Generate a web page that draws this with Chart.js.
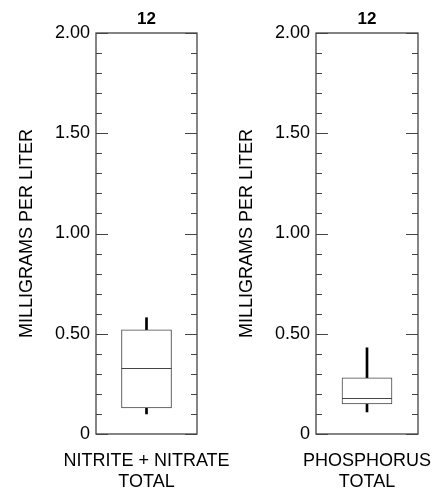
<!DOCTYPE html>
<html>
<head>
<meta charset="utf-8">
<script src="https://cdn.jsdelivr.net/npm/chart.js@4/dist/chart.umd.min.js"></script>
<style>
  html, body { margin: 0; padding: 0; background: #fff; }
  .panel { position: absolute; top: 0; height: 491px; }
</style>
</head>
<body>
<div class="panel" style="left:220px;width:219px"><canvas id="chart1" width="219" height="491"></canvas></div>
<div class="panel" style="left:0;width:240px"><canvas id="chart0" width="240" height="491"></canvas></div>
<script>
// one box per panel
var categories = [['NITRITE + NITRATE', 'TOTAL'], ['PHOSPHORUS', 'TOTAL']];
var counts = [12, 12];
var whiskerLow = [0.10, 0.11];
var q1 = [0.13, 0.15];
var median = [0.33, 0.18];
var q3 = [0.52, 0.28];
var whiskerHigh = [0.58, 0.43];

var yMin = 0, yMax = 2, minorStep = 0.1, majorStep = 0.5;
var yLabels = ['0', '0.50', '1.00', '1.50', '2.00'];

var FONT = "'Liberation Sans', Arial, Helvetica, sans-serif";

var boxExtras = {
  id: 'boxExtras',
  afterDraw: function (chart) {
    var ctx = chart.ctx, a = chart.chartArea, y = chart.scales.y;
    var idx = chart.options.plugins.boxExtras.index;
    ctx.save();
    // frame
    ctx.strokeStyle = '#444';
    ctx.lineWidth = 1.3;
    ctx.strokeRect(a.left, a.top, a.right - a.left, a.bottom - a.top);
    // inward ticks on both sides
    ctx.lineWidth = 1;
    y.ticks.forEach(function (t) {
      var py = Math.round(y.getPixelForValue(t.value)) + 0.5;
      var major = Math.round(t.value * 10) % Math.round(majorStep * 10) === 0;
      var len = major ? 12 : 6;
      ctx.beginPath();
      ctx.moveTo(a.left, py); ctx.lineTo(a.left + len, py);
      ctx.moveTo(a.right, py); ctx.lineTo(a.right - len, py);
      ctx.stroke();
    });
    // median line across the box
    var el = chart.getDatasetMeta(0).data[0];
    var my = Math.round(y.getPixelForValue(median[idx])) + 0.5;
    ctx.strokeStyle = '#444';
    ctx.beginPath();
    ctx.moveTo(el.x - el.width / 2, my); ctx.lineTo(el.x + el.width / 2, my);
    ctx.stroke();
    // sample count
    ctx.fillStyle = '#000';
    ctx.font = 'bold 17px ' + FONT;
    ctx.textAlign = 'center';
    ctx.textBaseline = 'alphabetic';
    ctx.fillText(String(counts[idx]), el.x, 23.5);
    ctx.restore();
  }
};

function makeChart(id, idx, rightPad) {
  var ctx = document.getElementById(id).getContext('2d');
  return new Chart(ctx, {
    type: 'bar',
    data: {
      labels: [categories[idx]],
      datasets: [
        {
          data: [[q1[idx], q3[idx]]],
          backgroundColor: '#fff',
          borderColor: '#444',
          borderWidth: 1,
          borderSkipped: false,
          barThickness: 50,
          grouped: false
        },
        {
          data: [[q3[idx], whiskerHigh[idx]]],
          backgroundColor: '#000',
          borderWidth: 0,
          barThickness: 2,
          grouped: false
        },
        {
          data: [[whiskerLow[idx], q1[idx]]],
          backgroundColor: '#000',
          borderWidth: 0,
          barThickness: 2,
          grouped: false
        }
      ]
    },
    options: {
      responsive: false,
      animation: false,
      layout: { padding: { top: 33, right: rightPad, bottom: 0, left: 0 } },
      plugins: {
        legend: { display: false },
        tooltip: { enabled: false },
        boxExtras: { index: idx }
      },
      scales: {
        x: {
          grid: { display: false, drawTicks: false },
          border: { display: false },
          ticks: {
            color: '#000',
            padding: 16,
            maxRotation: 0,
            minRotation: 0,
            font: { family: FONT, size: 18, lineHeight: 1.2 }
          },
          afterFit: function (s) {
            s.height = 57;
            s.paddingLeft = 0; s.paddingRight = 0;
          }
        },
        y: {
          min: yMin,
          max: yMax,
          grid: { display: false, drawTicks: false },
          border: { display: false },
          ticks: {
            stepSize: minorStep,
            autoSkip: false,
            padding: 6,
            color: '#000',
            font: { family: FONT, size: 18 },
            callback: function (v) {
              var k = Math.round(v * 10), m = Math.round(majorStep * 10);
              return k % m === 0 ? yLabels[k / m] : '';
            }
          },
          title: {
            display: true,
            text: 'MILLIGRAMS PER LITER',
            color: '#000',
            font: { family: FONT, size: 18 },
            padding: { top: 16, bottom: 0 }
          },
          afterFit: function (s) {
            s.width = 96;
            s.paddingTop = 0; s.paddingBottom = 0;
          }
        }
      }
    },
    plugins: [boxExtras]
  });
}

makeChart('chart0', 0, 43);
makeChart('chart1', 1, 21);
</script>
</body>
</html>
